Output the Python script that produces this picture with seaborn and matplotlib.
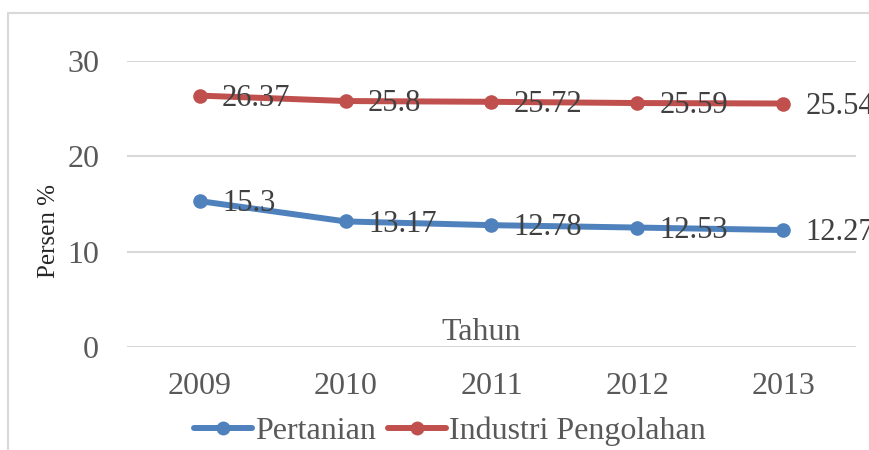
import matplotlib
matplotlib.use('Agg')
import matplotlib.pyplot as plt
import seaborn as sns
import pandas as pd
from matplotlib.patches import Rectangle

# data
years = ['2009', '2010', '2011', '2012', '2013']
pertanian = [15.3, 13.17, 12.78, 12.53, 12.27]
industri = [26.37, 25.8, 25.72, 25.59, 25.54]
series_names = ['Pertanian', 'Industri Pengolahan']
colors = ['#4F81BD', '#C0504D']
y_ticks = [0, 10, 20, 30]

df = pd.DataFrame({
    'Tahun': years * 2,
    'Persen': pertanian + industri,
    'Sektor': [series_names[0]] * len(years) + [series_names[1]] * len(years),
})

sns.set_style('white')
plt.rcParams['font.family'] = ['Liberation Serif', 'DejaVu Serif']

fig = plt.figure(figsize=(8.7, 4.5), dpi=100)
ax = fig.add_axes([127/870, 1 - 347/450, (856 - 127)/870, (347 - 61)/450])

sns.lineplot(data=df, x='Tahun', y='Persen', hue='Sektor', palette=colors,
             marker='o', markersize=10.5, markeredgewidth=0, linewidth=4.3,
             ax=ax, legend=False, sort=False)

# value labels (the last ones run off the right edge, as in the original)
for vals in (pertanian, industri):
    for i, v in enumerate(vals):
        ax.annotate(f'{v:g}', (i, v), xytext=(16, -2), textcoords='offset points',
                    ha='left', va='center', fontsize=22, color='#404040')

ax.set_xlim(-0.5, len(years) - 0.5)
ax.set_ylim(0, 30)
ax.set_yticks(y_ticks)
ax.yaxis.grid(True, color='#D9D9D9', linewidth=1.5)
ax.set_axisbelow(True)
for s in ax.spines.values():
    s.set_visible(False)
ax.tick_params(axis='both', length=0, labelsize=23, labelcolor='#595959')
ax.tick_params(axis='x', pad=18)
ax.tick_params(axis='y', pad=20)
ax.set_xlabel('')
ax.set_ylabel('')

ax.text(0.486, 0.05, 'Tahun', transform=ax.transAxes, ha='center', va='center',
        fontsize=23, color='#595959')
fig.text(49/870, 1 - 231/450, 'Persen %', rotation=90, ha='center', va='center',
         fontsize=18, color='#262626')

handles = [plt.Line2D([], [], color=c, linewidth=4.3, marker='o', markersize=10,
                      markeredgewidth=0) for c in colors]
fig.legend(handles, series_names, loc='center', bbox_to_anchor=(450/870, 1 - 431/450),
           ncol=2, frameon=False, fontsize=23, labelcolor='#595959',
           handlelength=1.8, handletextpad=0.1, columnspacing=0.4)

# chart frame
fig.add_artist(Rectangle((8/870, -0.1), 1.2, 1 - 13/450 + 0.1, transform=fig.transFigure,
                         fill=False, edgecolor='#D9D9D9', linewidth=1.5))

fig.savefig('out.png', dpi=100)
